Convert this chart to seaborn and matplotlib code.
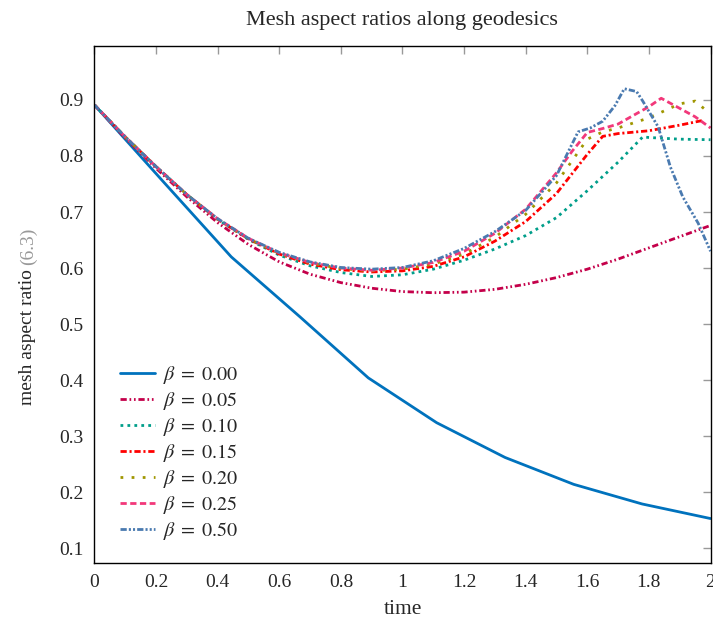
import numpy as np
import pandas as pd
import seaborn as sns
import matplotlib.pyplot as plt

# values
labels = [r"$\beta\;=\;0.00$", r"$\beta\;=\;0.05$", r"$\beta\;=\;0.10$", r"$\beta\;=\;0.15$",
          r"$\beta\;=\;0.20$", r"$\beta\;=\;0.25$", r"$\beta\;=\;0.50$"]

t_b000 = [0, 0.222, 0.444, 0.667, 0.889, 1.111, 1.333, 1.556, 1.778, 2.0]
y_b000 = [0.891, 0.755, 0.620, 0.513, 0.404, 0.324, 0.262, 0.214, 0.179, 0.153]

t_b005 = [0, 0.1, 0.2, 0.3, 0.4, 0.5, 0.6, 0.7, 0.8, 0.9, 1.0, 1.1, 1.2, 1.3, 1.4,
          1.5, 1.6, 1.7, 1.8, 1.9, 2.0]
y_b005 = [0.891, 0.832, 0.778, 0.727, 0.681, 0.642, 0.611, 0.589, 0.574, 0.564, 0.558,
          0.556, 0.557, 0.562, 0.571, 0.583, 0.598, 0.616, 0.636, 0.656, 0.676]

t_b010 = [0, 0.1, 0.2, 0.3, 0.4, 0.5, 0.6, 0.7, 0.8, 0.9, 1.0, 1.1, 1.2, 1.3, 1.4,
          1.5, 1.6, 1.7, 1.78, 1.8, 1.9, 2.0]
y_b010 = [0.891, 0.834, 0.781, 0.731, 0.687, 0.651, 0.623, 0.604, 0.592, 0.585, 0.588,
          0.598, 0.614, 0.634, 0.658, 0.690, 0.738, 0.789, 0.834, 0.833, 0.830, 0.829]

t_b015 = [0, 0.1, 0.2, 0.3, 0.4, 0.5, 0.6, 0.7, 0.8, 0.9, 1.0, 1.1, 1.2, 1.3, 1.4,
          1.5, 1.6, 1.65, 1.7, 1.8, 1.9, 1.98]
y_b015 = [0.891, 0.834, 0.781, 0.731, 0.687, 0.652, 0.625, 0.607, 0.597, 0.593, 0.595,
          0.603, 0.620, 0.648, 0.683, 0.733, 0.803, 0.835, 0.840, 0.845, 0.855, 0.864]

t_b020 = [0, 0.1, 0.2, 0.3, 0.4, 0.5, 0.6, 0.7, 0.8, 0.9, 1.0, 1.1, 1.2, 1.3, 1.4,
          1.5, 1.6, 1.65, 1.7, 1.8, 1.9, 1.95, 1.98]
y_b020 = [0.891, 0.834, 0.781, 0.731, 0.687, 0.652, 0.626, 0.609, 0.599, 0.595, 0.598,
          0.607, 0.625, 0.655, 0.696, 0.752, 0.830, 0.843, 0.850, 0.868, 0.893, 0.898, 0.884]

t_b025 = [0, 0.1, 0.2, 0.3, 0.4, 0.5, 0.6, 0.7, 0.8, 0.9, 1.0, 1.1, 1.2, 1.3, 1.4,
          1.5, 1.55, 1.6, 1.65, 1.7, 1.8, 1.84, 1.9, 1.95, 2.0]
y_b025 = [0.891, 0.834, 0.781, 0.731, 0.688, 0.653, 0.627, 0.610, 0.600, 0.596, 0.600,
          0.610, 0.630, 0.662, 0.705, 0.770, 0.808, 0.842, 0.849, 0.857, 0.888, 0.903,
          0.885, 0.870, 0.850]

t_b050 = [0, 0.1, 0.2, 0.3, 0.4, 0.5, 0.6, 0.7, 0.8, 0.9, 1.0, 1.1, 1.2, 1.3, 1.4,
          1.5, 1.57, 1.61, 1.65, 1.69, 1.72, 1.76, 1.78, 1.83, 1.87, 1.91, 1.96, 2.0]
y_b050 = [0.891, 0.834, 0.781, 0.731, 0.688, 0.653, 0.628, 0.611, 0.601, 0.598, 0.601,
          0.613, 0.635, 0.665, 0.703, 0.765, 0.843, 0.850, 0.862, 0.890, 0.920, 0.915,
          0.898, 0.852, 0.780, 0.727, 0.680, 0.630]

times = [t_b000, t_b005, t_b010, t_b015, t_b020, t_b025, t_b050]
ratios = [y_b000, y_b005, y_b010, y_b015, y_b020, y_b025, y_b050]

colors = ["#0072bd", "#c4004a", "#009e8a", "#ff0000", "#a09600", "#f2387a", "#4a7ab0"]
dash_styles = ["", (4.5, 2, 1.2, 2, 1.2, 2), (2, 3), (4.5, 2, 1.5, 2), (2, 6),
               (4.5, 2.5), (4.5, 1.5, 1.5, 1.5, 1.5, 1.5)]

frames = []
for lab, t, y in zip(labels, times, ratios):
    frames.append(pd.DataFrame({"time": t, "ratio": y, "beta": lab}))
df = pd.concat(frames, ignore_index=True)

sns.set_style("white")
plt.rcParams["font.family"] = ["Liberation Serif", "DejaVu Serif"]
plt.rcParams["mathtext.fontset"] = "stix"
plt.rcParams["lines.scale_dashes"] = False

fig = plt.figure(figsize=(7.13, 6.21), dpi=100)
ax = fig.add_axes([0.1325, 0.0928, 0.864, 0.8338])

sns.lineplot(data=df, x="time", y="ratio", hue="beta", style="beta",
             palette=dict(zip(labels, colors)), dashes=dict(zip(labels, dash_styles)),
             hue_order=labels, style_order=labels, linewidth=2.0, sort=False,
             legend=False, ax=ax)

ax.set_xlim(0, 2)
ax.set_ylim(0.073, 0.997)
ax.set_xticks(np.arange(0, 2.01, 0.2))
ax.set_xticklabels(["0", "0.2", "0.4", "0.6", "0.8", "1", "1.2", "1.4", "1.6", "1.8", "2"])
ax.set_yticks(np.arange(0.1, 0.91, 0.1))
ax.set_yticklabels([f"{v:.1f}" for v in np.arange(0.1, 0.91, 0.1)])
ax.tick_params(direction="in", length=6, width=1, color="#999999", labelsize=14,
               top=True, right=True, pad=8)
for s in ax.spines.values():
    s.set_color("black")
    s.set_linewidth(1.0)

fig.text(402 / 713, 1 - 20 / 621, "Mesh aspect ratios along geodesics", fontsize=16,
         ha="center", va="center")
ax.set_xlabel("time", fontsize=15.5, labelpad=6)
ax.set_ylabel("")

# y label in two parts: black text and grey reference
ylab = fig.text(28 / 713, 1 - 405 / 621, "mesh aspect ratio", rotation=90, fontsize=14,
                ha="center", va="bottom")
fig.canvas.draw()
bb = ylab.get_window_extent()
fig.text(28 / 713, (bb.y1 + 4) / fig.bbox.height, "(6.3)", rotation=90, fontsize=14,
         color="#999999", ha="center", va="bottom")

leg = ax.legend(ax.lines[:len(labels)], labels, loc="lower left",
                bbox_to_anchor=(0.012, 0.006), frameon=False, fontsize=14.5,
                handlelength=1.75, labelspacing=0.2, handletextpad=0.4)

fig.savefig("out.png", dpi=100)
